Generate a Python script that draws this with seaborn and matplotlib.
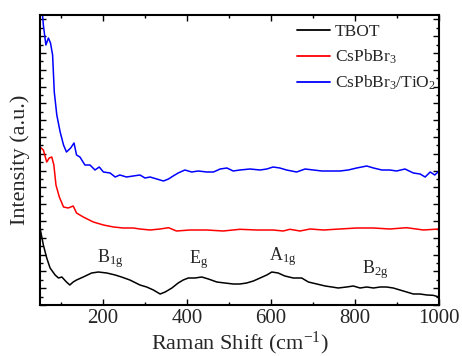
import matplotlib
matplotlib.use("Agg")
import matplotlib.pyplot as plt
import seaborn as sns
import pandas as pd
from matplotlib.ticker import MultipleLocator, NullFormatter

# ---- data (arbitrary intensity units) ----
tbot_x = [50, 58, 66, 74, 86, 94, 102, 113, 121, 129, 137, 153, 173, 189, 209, 229, 244, 264,
          288, 304, 320, 336, 348, 364, 379, 391, 403, 419, 435, 451, 471, 490, 510, 526,
          542, 558, 574, 590, 602, 617, 633, 653, 673, 689, 709, 729, 745, 760, 780, 796,
          812, 828, 844, 860, 875, 891, 907, 923, 939, 955, 971, 986, 1000]
tbot_y = [77, 60, 47, 37, 30, 27, 28, 23, 20, 23, 25, 28, 32, 33, 32, 30, 28, 25,
          20, 18, 15, 11, 13, 17, 22, 25, 27, 27, 28, 26, 23, 22, 21, 21,
          22, 24, 27, 30, 33, 32, 29, 27, 27, 23, 21, 19, 18, 17, 18, 19,
          17, 18, 17, 18, 18, 17, 15, 13, 11, 11, 10, 9.7, 8]

cspb_x = [50, 58, 66, 72, 78, 83, 88, 96, 106, 117, 129, 137, 153, 177, 201, 225, 248, 272,
          288, 312, 336, 356, 375, 407, 447, 486, 526, 566, 605, 629, 645, 669, 693, 725,
          764, 804, 844, 883, 923, 963, 1000]
cspb_y = [158, 155, 143, 147, 148, 140, 120, 108, 98, 97, 99, 92, 88, 83, 80, 78, 77, 77,
          76, 75, 76, 77.3, 74, 75, 75, 74, 75.7, 75, 75, 74, 75.7, 74, 76, 75,
          76, 77, 77, 76, 77.3, 75, 76]

tio2_x = [50, 58, 64, 70, 75, 80, 84, 90, 98, 106, 113, 123, 131, 137, 145, 157, 169, 181,
          191, 201, 217, 229, 240, 256, 272, 288, 300, 312, 328, 344, 356, 367, 379, 395,
          411, 427, 447, 463, 479, 495, 510, 526, 550, 574, 590, 605, 621, 637, 661, 681,
          701, 721, 740, 764, 784, 804, 828, 844, 864, 883, 899, 919, 939, 955, 967, 979,
          990, 1000]
tio2_y = [320, 280, 260, 267, 262, 250, 213, 190, 173, 160, 153, 157, 162, 150, 148, 140, 140, 135,
          138, 133, 132, 128, 130, 128, 129, 130, 127, 128, 126, 124, 126, 129, 132, 135,
          133, 134, 133, 133, 136, 137, 134, 135, 136, 135, 136, 138, 137, 135, 133, 136,
          135, 134, 134, 134, 135, 137, 139, 137, 135, 135, 134, 136, 132, 131, 128, 133,
          130, 134]

series_names = ["TBOT", r"CsPbBr$_3$", r"CsPbBr$_3$/TiO$_2$"]
series_colors = ["black", "#ff0000", "#0000ff"]

peak_labels = [r"B$_{\mathrm{1g}}$", r"E$_{\mathrm{g}}$", r"A$_{\mathrm{1g}}$", r"B$_{\mathrm{2g}}$"]
peak_x = [217, 427, 629, 848]
peak_y = [43, 42, 45, 32]

x_ticks = [200, 400, 600, 800, 1000]

# ---- style ----
sns.set_style("ticks")
plt.rcParams["font.family"] = ["Liberation Serif", "DejaVu Serif"]
plt.rcParams["mathtext.fontset"] = "custom"
plt.rcParams["mathtext.rm"] = "Liberation Serif"
plt.rcParams["mathtext.it"] = "Liberation Serif:italic"
plt.rcParams["mathtext.default"] = "rm"

fig = plt.figure(figsize=(4.62, 3.56), dpi=100)
ax = fig.add_axes([40 / 462, 1 - 305 / 356, (439 - 40) / 462, (305 - 15) / 356])

frames = [
    pd.DataFrame({"x": tbot_x, "y": tbot_y}),
    pd.DataFrame({"x": cspb_x, "y": cspb_y}),
    pd.DataFrame({"x": tio2_x, "y": tio2_y}),
]
for df, name, col in zip(frames, series_names, series_colors):
    sns.lineplot(data=df, x="x", y="y", ax=ax, color=col, lw=1.1, label=name, sort=False)

for lab, px_, py_ in zip(peak_labels, peak_x, peak_y):
    ax.text(px_, py_, lab, ha="center", va="baseline", fontsize=13)

ax.set_xlim(50, 1000)
ax.set_ylim(0, 290)
ax.set_xticks(x_ticks)
ax.xaxis.set_minor_locator(MultipleLocator(100))
ax.yaxis.set_major_locator(MultipleLocator(16.8))
ax.yaxis.set_minor_locator(MultipleLocator(8.4))
ax.yaxis.set_major_formatter(NullFormatter())
ax.tick_params(axis="both", which="both", direction="in", top=True, right=True,
               width=1.0, color="black")
ax.tick_params(axis="both", which="major", length=4, labelsize=15, pad=3)
ax.tick_params(axis="both", which="minor", length=2.5)
for s in ax.spines.values():
    s.set_linewidth(1.5)
    s.set_color("black")

ax.set_xlabel(r"Raman Shift (cm$^{-1}$)", fontsize=16, labelpad=1)
ax.set_ylabel("Intensity (a.u.)", fontsize=16, labelpad=4)

leg = ax.legend(loc="upper left", bbox_to_anchor=(0.645, 0.97), frameon=False,
                fontsize=12.5, handlelength=1.9, handletextpad=0.25, labelspacing=0.45,
                borderaxespad=0.0, borderpad=0.0)
for line in leg.get_lines():
    line.set_linewidth(1.3)

fig.savefig("out.png", dpi=100)
